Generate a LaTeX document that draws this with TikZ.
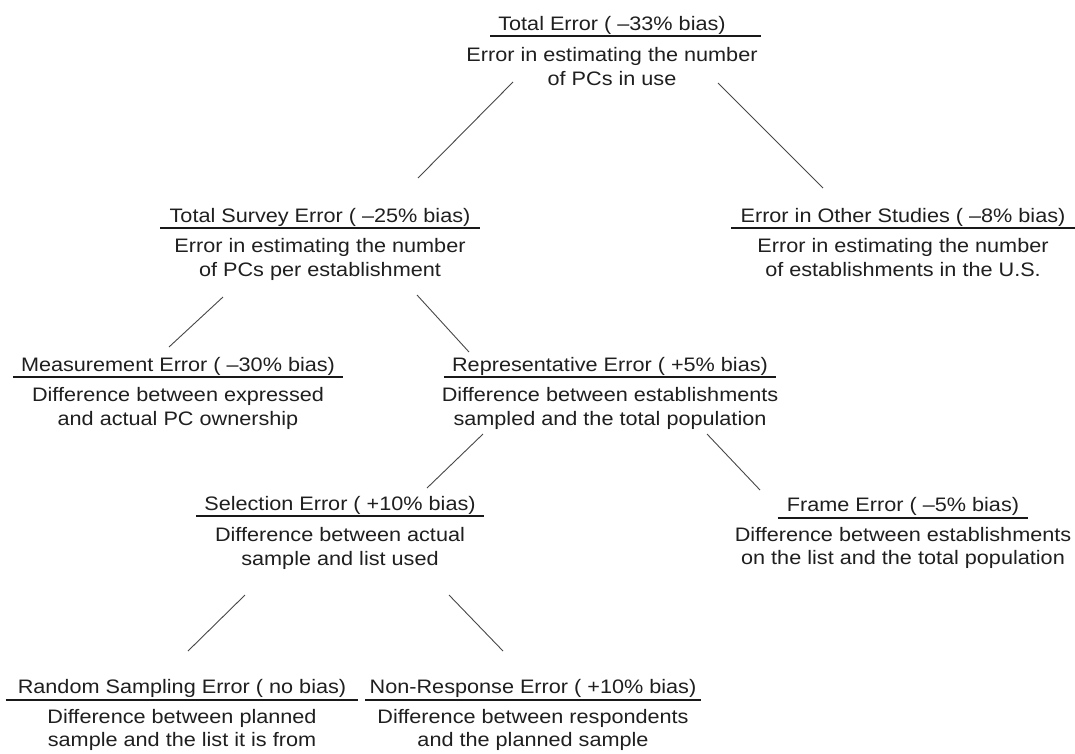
\documentclass[tikz,border=0pt]{standalone}
\usepackage{fontspec}
\setmainfont{Liberation Sans}[FakeStretch=1.11]
\begin{document}
\begin{tikzpicture}[x=1pt,y=-1pt,
  txt/.style={inner sep=0pt, anchor=base, font=\fontsize{19.5}{24}\selectfont, text=black!88},
  rulez/.style={line width=1.2pt, black!90},
  link/.style={line width=0.9pt, black!72}]
\fill[white] (0,0) rectangle (1075,753);
\useasboundingbox (0,0) rectangle (1075,753);
% Total Error
\node[txt] (tot) at (612,30) {Total Error ( –33\% bias)};
\node[txt] (tot2) at (612,61) {Error in estimating the number};
\node[txt] (tot3) at (612,85) {of PCs in use};
\draw[rulez] ([xshift=-8pt,yshift=-6pt]tot.base west) -- ([xshift=35pt,yshift=-6pt]tot.base east);
% Total Survey Error
\node[txt] (sur) at (320,222) {Total Survey Error ( –25\% bias)};
\node[txt] (sur2) at (320,252) {Error in estimating the number};
\node[txt] (sur3) at (320,276) {of PCs per establishment};
\draw[rulez] ([xshift=-9pt,yshift=-6pt]sur.base west) -- ([xshift=9pt,yshift=-6pt]sur.base east);
% Other Studies
\node[txt] (oth) at (903,222) {Error in Other Studies ( –8\% bias)};
\node[txt] (oth2) at (903,252) {Error in estimating the number};
\node[txt] (oth3) at (903,276) {of establishments in the U.S.};
\draw[rulez] ([xshift=-9pt,yshift=-6pt]oth.base west) -- ([xshift=9pt,yshift=-6pt]oth.base east);
% Measurement
\node[txt] (mea) at (178,371) {Measurement Error ( –30\% bias)};
\node[txt] (mea2) at (178,401) {Difference between expressed};
\node[txt] (mea3) at (178,425) {and actual PC ownership};
\draw[rulez] ([xshift=-8pt,yshift=-6pt]mea.base west) -- ([xshift=8pt,yshift=-6pt]mea.base east);
% Representative
\node[txt] (rep) at (610,371) {Representative Error ( +5\% bias)};
\node[txt] (rep2) at (610,401) {Difference between establishments};
\node[txt] (rep3) at (610,425) {sampled and the total population};
\draw[rulez] ([xshift=-8pt,yshift=-6pt]rep.base west) -- ([xshift=8pt,yshift=-6pt]rep.base east);
% Selection
\node[txt] (sel) at (340,510) {Selection Error ( +10\% bias)};
\node[txt] (sel2) at (340,541) {Difference between actual};
\node[txt] (sel3) at (340,565) {sample and list used};
\draw[rulez] ([xshift=-8pt,yshift=-6pt]sel.base west) -- ([xshift=8pt,yshift=-6pt]sel.base east);
% Frame
\node[txt] (fra) at (903,511) {Frame Error ( –5\% bias)};
\node[txt] (fra2) at (903,541) {Difference between establishments};
\node[txt] (fra3) at (903,564) {on the list and the total population};
\draw[rulez] ([xshift=-9pt,yshift=-7pt]fra.base west) -- ([xshift=9pt,yshift=-7pt]fra.base east);
% Random Sampling
\node[txt] (ran) at (182,693) {Random Sampling Error ( no bias)};
\node[txt] (ran2) at (182,723) {Difference between planned};
\node[txt] (ran3) at (182,746) {sample and the list it is from};
\draw[rulez] ([xshift=-12pt,yshift=-7pt]ran.base west) -- ([xshift=12pt,yshift=-7pt]ran.base east);
% Non-Response
\node[txt] (non) at (533,693) {Non-Response Error ( +10\% bias)};
\node[txt] (non2) at (533,723) {Difference between respondents};
\node[txt] (non3) at (533,746) {and the planned sample};
\draw[rulez] ([xshift=-4pt,yshift=-7pt]non.base west) -- ([xshift=4pt,yshift=-7pt]non.base east);
% connector end points
\coordinate (a1) at (513,82);  \coordinate (a2) at (418,178);
\coordinate (b1) at (718,83);  \coordinate (b2) at (823,188);
\coordinate (c1) at (223,297); \coordinate (c2) at (169,347);
\coordinate (d1) at (417,295); \coordinate (d2) at (469,352);
\coordinate (e1) at (483,434); \coordinate (e2) at (427,488);
\coordinate (f1) at (707,434); \coordinate (f2) at (760,490);
\coordinate (g1) at (245,595); \coordinate (g2) at (188,651);
\coordinate (h1) at (449,595); \coordinate (h2) at (503,651);
\draw[link] (a1) -- (a2);
\draw[link] (b1) -- (b2);
\draw[link] (c1) -- (c2);
\draw[link] (d1) -- (d2);
\draw[link] (e1) -- (e2);
\draw[link] (f1) -- (f2);
\draw[link] (g1) -- (g2);
\draw[link] (h1) -- (h2);
\end{tikzpicture}
\end{document}
